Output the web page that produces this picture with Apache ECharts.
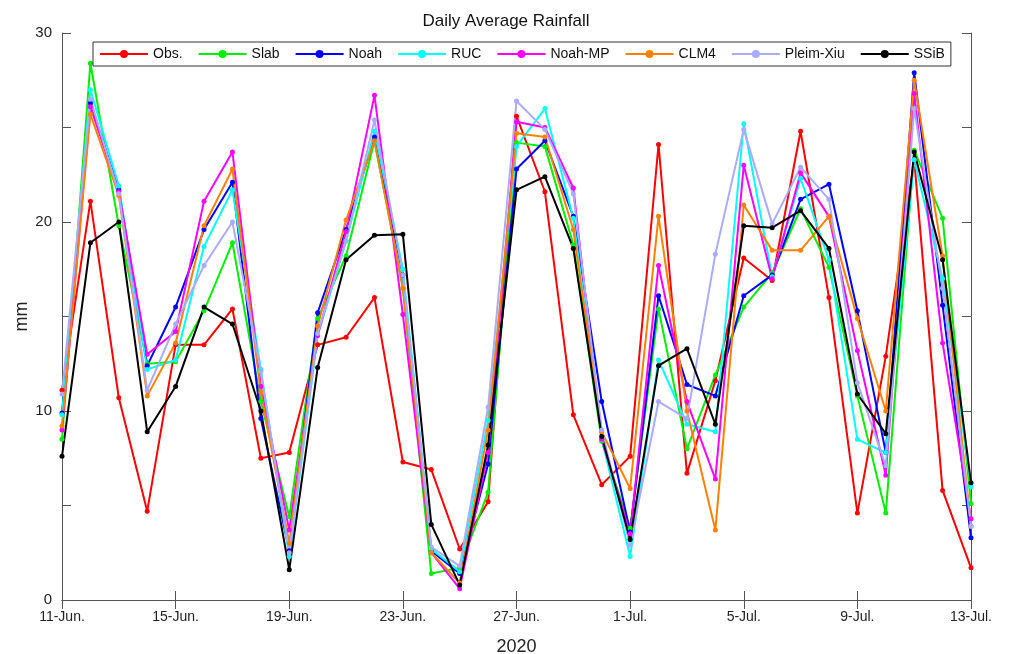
<!DOCTYPE html>
<html lang="en">
<head>
    <meta charset="UTF-8">
    <title>Daily Average Rainfall</title>
    <script src="https://cdn.jsdelivr.net/npm/echarts@6/dist/echarts.min.js"></script>
    <style>
        html, body { margin: 0; padding: 0; background: #fff; }
        #rainChart { width: 1012px; height: 654px; }
    </style>
</head>
<body>
<div id="rainChart"></div>
<script type="text/javascript">
    // dates: 11 Jun .. 13 Jul 2020
    var days = []
    for (let d = 11; d <= 30; d++) days.push(d + '-Jun.')
    for (let d = 1; d <= 13; d++) days.push(d + '-Jul.')

    // daily average rainfall (mm)
    var obs     = [11.1, 21.1, 10.7, 4.7, 13.5, 13.5, 15.4, 7.5, 7.8, 13.5, 13.9, 16.0, 7.3, 6.9, 2.7, 5.2, 25.6, 21.6, 9.8, 6.1, 7.6, 24.1, 6.7, 11.6, 18.1, 16.9, 24.8, 16.0, 4.6, 12.9, 23.3, 5.8, 1.7]
    var slab    = [8.5, 28.4, 19.8, 12.5, 12.6, 15.3, 18.9, 10.5, 4.4, 14.9, 18.2, 24.3, 16.5, 1.4, 1.7, 5.7, 24.2, 24.0, 18.8, 8.4, 3.8, 15.4, 8.0, 11.9, 15.5, 17.3, 20.7, 17.6, 10.8, 4.6, 23.8, 20.2, 5.1]
    var noah    = [9.9, 26.3, 21.7, 12.4, 15.5, 19.6, 22.1, 9.6, 2.6, 15.2, 19.6, 24.5, 17.2, 2.6, 1.4, 7.2, 22.8, 24.3, 20.3, 10.5, 3.6, 16.1, 11.4, 10.8, 16.1, 17.2, 21.2, 22.0, 15.3, 7.8, 27.9, 15.6, 3.3]
    var ruc     = [9.8, 27.0, 21.9, 12.2, 12.7, 18.7, 21.7, 12.2, 2.3, 14.0, 19.0, 24.8, 17.5, 2.7, 1.5, 9.5, 24.0, 26.0, 20.2, 8.5, 2.3, 12.7, 9.3, 8.9, 25.2, 17.1, 22.3, 18.0, 8.5, 7.8, 23.3, 17.0, 6.0]
    var noahMP  = [9.0, 26.1, 21.6, 13.0, 14.2, 21.1, 23.7, 11.3, 3.7, 14.0, 19.5, 26.7, 15.1, 2.5, 0.6, 7.8, 25.3, 25.0, 21.8, 8.5, 3.5, 17.7, 10.5, 6.4, 23.0, 17.0, 22.6, 20.3, 13.2, 6.6, 26.8, 13.6, 4.3]
    var clm4    = [9.2, 25.7, 21.4, 10.8, 13.6, 19.8, 22.8, 11.0, 3.0, 14.5, 20.1, 24.3, 16.5, 2.5, 0.9, 9.0, 24.7, 24.5, 19.6, 8.9, 5.9, 20.3, 10.0, 3.7, 20.9, 18.5, 18.5, 20.3, 14.9, 10.0, 27.5, 18.2, 3.9]
    var pleimXiu = [10.9, 26.5, 21.5, 11.1, 14.6, 17.7, 20.0, 12.1, 2.5, 14.1, 19.0, 25.4, 17.2, 2.8, 1.8, 10.2, 26.4, 24.9, 21.5, 9.0, 2.9, 10.5, 9.6, 18.3, 24.9, 19.9, 22.9, 21.2, 11.5, 7.1, 26.0, 16.5, 3.9]
    var ssib    = [7.6, 18.9, 20.0, 8.9, 11.3, 15.5, 14.6, 10.0, 1.6, 12.3, 18.0, 19.3, 19.35, 4.0, 0.8, 8.2, 21.7, 22.4, 18.6, 8.65, 3.2, 12.4, 13.3, 9.3, 19.8, 19.7, 20.6, 18.6, 10.9, 8.8, 23.7, 18.0, 6.2]

    var names  = ['Obs.', 'Slab', 'Noah', 'RUC', 'Noah-MP', 'CLM4', 'Pleim-Xiu', 'SSiB']
    var colors = ['#ff0000', '#00ee00', '#0000ff', '#00ffff', '#ff00ff', '#ff8000', '#aaaaff', '#000000']
    var values = [obs, slab, noah, ruc, noahMP, clm4, pleimXiu, ssib]

    var seriesList = []
    for (let i = 0; i < names.length; i++) {
        seriesList.push({
            name: names[i],
            type: 'line',
            data: values[i],
            symbol: 'circle',
            symbolSize: 5,
            color: colors[i],
            lineStyle: { width: 2, color: colors[i] },
            itemStyle: { color: colors[i] }
        })
    }

    var axisGray = '#555'
    var font = 'Liberation Sans, Arial, sans-serif'

    var chart = echarts.init(document.getElementById('rainChart'))
    chart.setOption({
        animation: false,
        textStyle: { fontFamily: font },
        title: {
            text: 'Daily Average Rainfall',
            left: 'center',
            top: 8,
            textStyle: { fontSize: 17, fontWeight: 'normal', color: '#111', fontFamily: font }
        },
        legend: {
            data: names,
            left: 93,
            top: 42,
            itemWidth: 48,
            itemHeight: 10,
            itemGap: 15,
            padding: [5, 6],
            borderColor: '#333',
            borderWidth: 1,
            backgroundColor: '#fff',
            textStyle: { fontSize: 14, color: '#111', fontFamily: font }
        },
        grid: { left: 62, right: 41, top: 33, bottom: 54, outerBoundsMode: 'none', containLabel: false },
        xAxis: [
            {
                type: 'category',
                data: days,
                boundaryGap: false,
                name: '2020',
                nameLocation: 'middle',
                nameGap: 38,
                nameTextStyle: { fontSize: 18, color: '#222' },
                axisLine: { lineStyle: { color: axisGray } },
                axisTick: { inside: true, interval: 3, length: 9, lineStyle: { color: axisGray } },
                axisLabel: { interval: 3, fontSize: 14, color: '#222', margin: 10 },
                splitLine: { show: false }
            },
            {
                type: 'category',
                data: days,
                boundaryGap: false,
                position: 'top',
                axisLine: { lineStyle: { color: axisGray } },
                axisTick: { inside: true, interval: 3, length: 9, lineStyle: { color: axisGray } },
                axisLabel: { show: false },
                splitLine: { show: false }
            }
        ],
        yAxis: [
            {
                type: 'value',
                min: 0,
                max: 30,
                interval: 5,
                name: 'mm',
                nameLocation: 'middle',
                nameGap: 31,
                nameMoveOverlap: false,
                nameTextStyle: { fontSize: 18, color: '#222' },
                axisLine: { show: true, lineStyle: { color: axisGray } },
                axisTick: { show: true, inside: true, length: 9, lineStyle: { color: axisGray } },
                axisLabel: {
                    fontSize: 15, color: '#222', margin: 10,
                    formatter: function (v) { return v % 10 === 0 ? v : '' }
                },
                splitLine: { show: false }
            },
            {
                type: 'value',
                min: 0,
                max: 30,
                interval: 5,
                position: 'right',
                axisLine: { show: true, lineStyle: { color: axisGray } },
                axisTick: { show: true, inside: true, length: 9, lineStyle: { color: axisGray } },
                axisLabel: { show: false },
                splitLine: { show: false }
            }
        ],
        series: seriesList
    })
</script>
</body>
</html>
